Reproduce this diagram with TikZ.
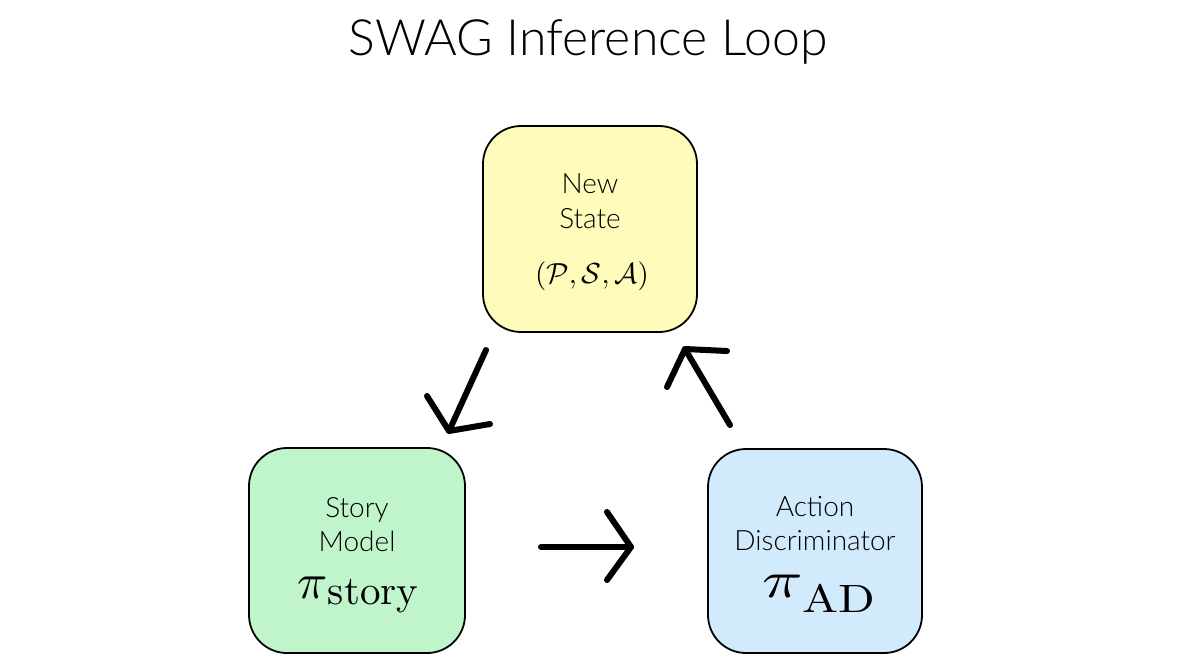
\documentclass[tikz,border=0pt]{standalone}
\usepackage{fontspec}
\usepackage{graphicx}
\newfontfamily\lato{Lato}[UprightFont=* Light]
\definecolor{stateyellow}{HTML}{FFFCBB}
\definecolor{storygreen}{HTML}{C0F5CC}
\definecolor{adblue}{HTML}{D1EBFC}
\tikzset{
  box/.style={draw=black, line width=1.8pt, rounded corners=38pt, inner sep=0pt},
  lbl/.style={anchor=base, inner sep=0pt, font=\lato\fontsize{28}{34}\selectfont},
  mth/.style={anchor=base, inner sep=0pt},
  arr/.style={line width=6pt, line cap=round, line join=round, black},
}
\begin{document}
\begin{tikzpicture}[x=1pt,y=-1pt]
\useasboundingbox (0,0) rectangle (1196,665);
\node[anchor=base, inner sep=0pt, font=\lato\fontsize{50}{60}\selectfont] (title) at (588,55) {SWAG Inference Loop};

\node[box, fill=stateyellow, minimum width=214pt, minimum height=206pt] (state) at (590,229) {};
\node[box, fill=storygreen, minimum width=216pt, minimum height=205pt] (story) at (357,550.5) {};
\node[box, fill=adblue, minimum width=214pt, minimum height=204pt] (ad) at (815,551) {};

\node[lbl] (stateA) at (590,193) {New};
\node[lbl] (stateB) at (590,228) {State};
\node[mth] (stateM) at (592,283) {\scalebox{2.9}{$(\mathcal{P},\mathcal{S},\mathcal{A})$}};

\node[lbl] (storyA) at (357,517) {Story};
\node[lbl] (storyB) at (357,551) {Model};
\node[mth] (storyM) at (358,598) {\scalebox{5}{$\pi$}\raisebox{-6pt}{\scalebox{4.1}{story}}};

\node[lbl] (adA) at (815,516) {Action};
\node[lbl] (adB) at (815,550) {Discriminator};
\node[mth] (adM) at (819,597) {\scalebox{6.7}[5.2]{$\pi$}\raisebox{-15pt}{\scalebox{4.8}[3.95]{AD}}};

\coordinate (a1s) at (486,350);
\coordinate (a1t) at (449,431);
\coordinate (a1l) at (427,396);
\coordinate (a1r) at (490,424);
\coordinate (a2s) at (541,547);
\coordinate (a2t) at (631,547);
\coordinate (a2l) at (607,512);
\coordinate (a2r) at (607,580);
\coordinate (a3s) at (730,425);
\coordinate (a3t) at (685,349);
\coordinate (a3l) at (667,387);
\coordinate (a3r) at (727,351);

\draw[arr] (a1s) -- (a1t);
\draw[arr] (a1l) -- (a1t) -- (a1r);
\draw[arr] (a2s) -- (a2t);
\draw[arr] (a2l) -- (a2t) -- (a2r);
\draw[arr] (a3s) -- (a3t);
\draw[arr] (a3l) -- (a3t) -- (a3r);
\end{tikzpicture}
\end{document}
